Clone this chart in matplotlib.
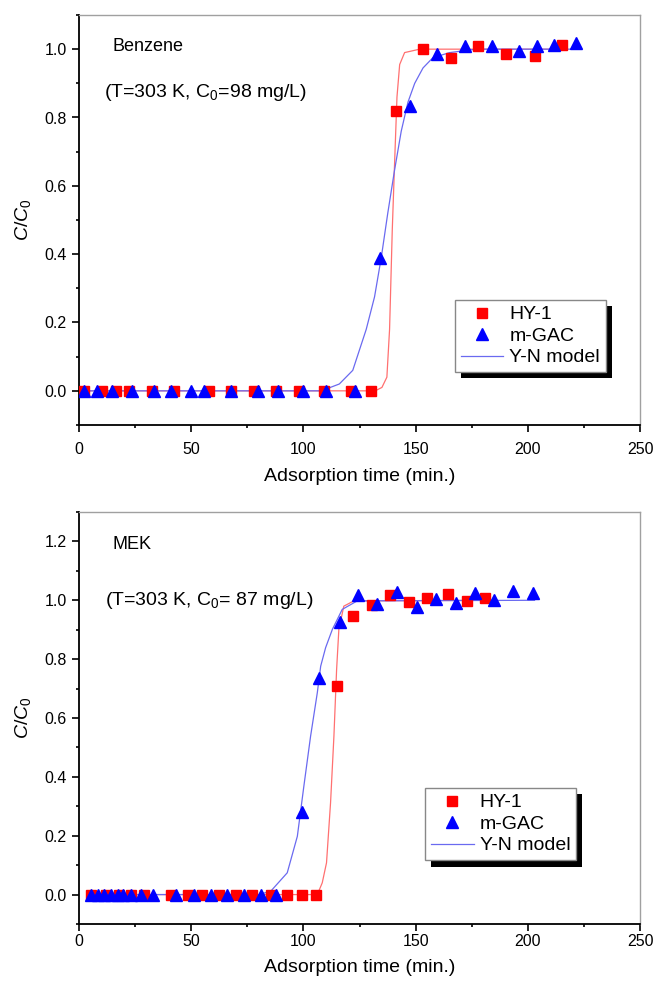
import matplotlib
matplotlib.use('Agg')
import matplotlib.pyplot as plt
import matplotlib.patheffects as pe
from matplotlib.ticker import MultipleLocator

plt.rcParams['font.family'] = ['Liberation Sans', 'DejaVu Sans']
plt.rcParams['mathtext.fontset'] = 'custom'
plt.rcParams['mathtext.rm'] = 'Liberation Sans'
plt.rcParams['mathtext.it'] = 'Liberation Sans:italic'

# Benzene breakthrough data
bz_hy_t = [2.2, 10.4, 16.4, 22.3, 32.7, 42.4, 58, 67.7, 78.1, 87.8, 98.2, 109.4, 121.3, 130.2,
           141.4, 153.3, 165.9, 177.8, 190.5, 203.4, 215.3]
bz_hy_c = [0, 0, 0, 0, 0, 0, 0, 0, 0, 0, 0, 0, 0, 0,
           0.82, 1.0, 0.975, 1.01, 0.987, 0.98, 1.013]
bz_gac_t = [2.2, 8.2, 14.9, 23.8, 33.5, 40.9, 49.9, 55.8, 67.7, 79.6, 88.5, 99.7, 110.1, 122.8,
            134.2, 147.6, 159.5, 171.9, 184.1, 196, 204.2, 211.7, 221.7]
bz_gac_c = [0, 0, 0, 0, 0, 0, 0, 0, 0, 0, 0, 0, 0, 0,
            0.39, 0.835, 0.986, 1.01, 1.01, 0.995, 1.01, 1.013, 1.018]
# Y-N model curves
bz_fit_hy_t = [0, 132, 135, 137.2, 138.4, 139.6, 140.6, 141.7, 142.9, 145.1, 151.8, 215]
bz_fit_hy_c = [0, 0, 0.01, 0.04, 0.18, 0.47, 0.66, 0.86, 0.955, 0.99, 1.0, 1.0]
bz_fit_gac_t = [0, 108, 116, 122, 128, 131.7, 134.7, 137.6, 140.6, 143.6, 146.6, 149.6,
                153.3, 157.7, 165.2, 177, 222]
bz_fit_gac_c = [0, 0, 0.02, 0.06, 0.18, 0.275, 0.39, 0.52, 0.645, 0.76, 0.845, 0.9,
                0.945, 0.975, 0.99, 1.0, 1.0]

# MEK breakthrough data
mek_hy_t = [5.3, 12, 17.9, 23.1, 29.1, 40.9, 48.4, 55, 62.4, 69.8, 77.3, 85.4, 92.8, 99.5, 105.7,
            114.8, 122.3, 130.4, 138.5, 146.9, 155, 164.3, 172.9, 181.1]
mek_hy_c = [0, 0, 0, 0, 0, 0, 0, 0, 0, 0, 0, 0, 0, 0, 0,
            0.71, 0.948, 0.983, 1.018, 0.995, 1.007, 1.022, 0.998, 1.009]
mek_gac_t = [5.3, 8.3, 11.3, 14.2, 17.2, 19.4, 23.1, 27.6, 32.8, 43.1, 51.3, 58.7, 66.1, 73.5,
             81, 87.6, 99.5, 106.9, 116.2, 124.5, 132.8, 141.8, 150.7, 159.3, 168, 176.6,
             185, 193.4, 202.5]
mek_gac_c = [0, 0, 0, 0, 0, 0, 0, 0, 0, 0, 0, 0, 0, 0, 0, 0,
             0.281, 0.737, 0.926, 1.017, 0.987, 1.027, 0.978, 1.003, 0.992, 1.026,
             1.001, 1.03, 1.026]
mek_fit_hy_t = [4, 106.2, 108.4, 110.3, 112.1, 113.6, 114.8, 115.8, 118, 122.5, 184]
mek_fit_hy_c = [0, 0, 0.04, 0.108, 0.312, 0.538, 0.765, 0.901, 0.98, 0.998, 1.0]
mek_fit_gac_t = [4, 80, 85.4, 92.8, 97.3, 100.2, 103.2, 106.2, 107.7, 109.9, 112.9, 117.3,
                 124, 203]
mek_fit_gac_c = [0, 0, 0.011, 0.074, 0.198, 0.368, 0.538, 0.686, 0.776, 0.839, 0.901, 0.969,
                 0.998, 1.0]

fig = plt.figure(figsize=(6.55, 9.82), dpi=100)
ax1 = fig.add_axes([79 / 655, 1 - 425 / 982, 561 / 655, 410 / 982])
ax2 = fig.add_axes([79 / 655, 1 - 924 / 982, 561 / 655, 412 / 982])


def draw(ax, hy_t, hy_c, gac_t, gac_c, fhy_t, fhy_c, fgac_t, fgac_c):
    ax.plot(fhy_t, fhy_c, color='#ff7070', lw=0.9, zorder=2)
    ax.plot(fgac_t, fgac_c, color='#6a6af0', lw=0.9, zorder=2, label='Y-N model')
    ax.plot(hy_t, hy_c, 's', color='#ff0000', ms=6.5, mec='#ff0000', zorder=3, label='HY-1')
    ax.plot(gac_t, gac_c, '^', color='#0000ff', ms=8, mec='#0000ff', zorder=4, label='m-GAC')
    ax.set_xlim(0, 250)
    ax.xaxis.set_major_locator(MultipleLocator(50))
    ax.xaxis.set_minor_locator(MultipleLocator(25))
    ax.yaxis.set_major_locator(MultipleLocator(0.2))
    ax.yaxis.set_minor_locator(MultipleLocator(0.1))
    for s in ['left', 'bottom']:
        ax.spines[s].set_linewidth(1.3)
        ax.spines[s].set_color('black')
    for s in ['top', 'right']:
        ax.spines[s].set_linewidth(1.0)
        ax.spines[s].set_color('#a0a0a0')
    ax.tick_params(which='both', direction='out', top=False, right=False, width=1.2, labelsize=11.5)
    ax.tick_params(which='major', length=5)
    ax.tick_params(which='minor', length=2.5)
    ax.tick_params(axis='y', pad=4)
    ax.set_xlabel('Adsorption time (min.)', fontsize=14)
    ax.set_ylabel(r'$C/C_{\mathrm{0}}$', fontsize=14)
    ax.yaxis.set_label_coords(-0.082, 0.5)
    h, l = ax.get_legend_handles_labels()
    order = [l.index('HY-1'), l.index('m-GAC'), l.index('Y-N model')]
    return [h[i] for i in order], [l[i] for i in order]


h, l = draw(ax1, bz_hy_t, bz_hy_c, bz_gac_t, bz_gac_c,
            bz_fit_hy_t, bz_fit_hy_c, bz_fit_gac_t, bz_fit_gac_c)
ax1.set_ylim(-0.1, 1.1)
ax1.set_yticks([0.0, 0.2, 0.4, 0.6, 0.8, 1.0])
ax1.yaxis.set_major_formatter(matplotlib.ticker.FormatStrFormatter('%.1f'))
ax1.tick_params(axis='x', pad=7)
ax1.xaxis.set_label_coords(0.5, -0.105)
ax1.text(0.059, 0.922, 'Benzene', transform=ax1.transAxes, fontsize=13, va='center')
ax1.text(0.045, 0.812, r'(T=303 K, C$_\mathrm{0}$=98 mg/L)', transform=ax1.transAxes,
         fontsize=14, va='center')
leg1 = ax1.legend(h, l, loc='upper left', bbox_to_anchor=(0.670, 0.305), borderaxespad=0,
                  fontsize=14, fancybox=False, edgecolor='#888888', framealpha=1,
                  handlelength=2.2, handletextpad=0.3, labelspacing=0.2, borderpad=0.3)

h, l = draw(ax2, mek_hy_t, mek_hy_c, mek_gac_t, mek_gac_c,
            mek_fit_hy_t, mek_fit_hy_c, mek_fit_gac_t, mek_fit_gac_c)
ax2.set_ylim(-0.1, 1.3)
ax2.set_yticks([0.0, 0.2, 0.4, 0.6, 0.8, 1.0, 1.2])
ax2.yaxis.set_major_formatter(matplotlib.ticker.FormatStrFormatter('%.1f'))
ax2.tick_params(axis='x', pad=2)
ax2.xaxis.set_label_coords(0.5, -0.085)
ax2.text(0.059, 0.92, 'MEK', transform=ax2.transAxes, fontsize=13, va='center')
ax2.text(0.046, 0.784, r'(T=303 K, C$_\mathrm{0}$= 87 mg/L)', transform=ax2.transAxes,
         fontsize=14, va='center')
leg2 = ax2.legend(h, l, loc='upper left', bbox_to_anchor=(0.617, 0.330), borderaxespad=0,
                  fontsize=14, fancybox=False, edgecolor='#888888', framealpha=1,
                  handlelength=2.2, handletextpad=0.3, labelspacing=0.2, borderpad=0.3)

# black drop shadow behind the legend boxes
for leg in (leg1, leg2):
    leg.get_frame().set_path_effects([
        pe.SimplePatchShadow(offset=(4.5, -4.5), shadow_rgbFace='black', alpha=1),
        pe.Normal()])

fig.savefig('out.png', dpi=100)
